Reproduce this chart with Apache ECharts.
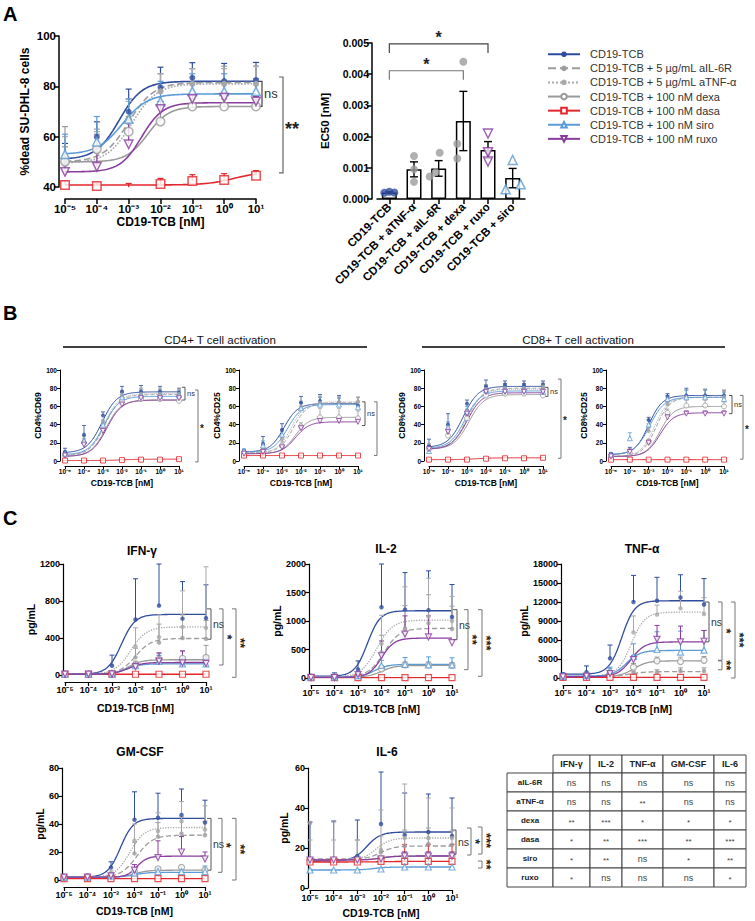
<!DOCTYPE html>
<html><head><meta charset="utf-8">
<script src="https://cdn.jsdelivr.net/npm/echarts@6/dist/echarts.min.js"></script>
<style>html,body{margin:0;padding:0;background:#fff}#c{width:755px;height:921px}</style>
</head><body><div id="c"></div>
<script>
// ================= DATA =================
const logDose = [-5, -4, -3, -2, -1, 0, 1];   // log10 CD19-TCB [nM]
const conditions = ['CD19-TCB', 'CD19-TCB + 5 µg/mL aIL-6R', 'CD19-TCB + 5 µg/mL aTNF-α',
  'CD19-TCB + 100 nM dexa', 'CD19-TCB + 100 nM dasa', 'CD19-TCB + 100 nM siro', 'CD19-TCB + 100 nM ruxo'];
// rows follow the order of `conditions`; fit rows = [bottom, top, logEC50, hill]

// A – killing
const killMean = [[49.3,59.9,69.9,79.6,83.4,82.1,82.5],[52,55,67,78,81,81,81],[50,54,66,78,81,81,81],
  [50,55,62,66,72,72,72],[40.8,40.4,39.9,41.2,42.4,42.8,44.5],[53,58,67,74,78,78,78],[46,48,57,71,75,75.5,74]];
const killSD = [[8,6,9,8,6,7,7],[12,8,8,7,6,7,7],[10,8,8,7,6,6,7],[6,6,6,6,3,3,3],
  [1.5,1.2,1.5,2.2,2.5,2.5,2],[8,10,8,8,7,7,5],[3,6,10,3,2,2,2]];
const killFit = [[51,82,-3.3,1.2],[50,81.5,-3.0,1.1],[49.5,81,-2.9,1.1],[50,72,-2.4,1.3],
  [40.8,46,0.3,1],[53,77,-3.2,1.1],[46,73.5,-2.6,1.3]];

// A – EC50
const ec50Cats = ['CD19-TCB', 'CD19-TCB + aTNF-α', 'CD19-TCB + aIL-6R', 'CD19-TCB + dexa', 'CD19-TCB + ruxo', 'CD19-TCB + siro'];
const ec50Mean = [0.00021, 0.00095, 0.00098, 0.0025, 0.00157, 0.00067];
const ec50Sem = [0.00002, 0.00024, 0.00025, 0.00095, 0.00027, 0.00031];
const ec50Reps = [[0.00020,0.00023,0.00021],[0.00138,0.00095,0.00055],[0.00148,0.00086,0.00072],
  [0.0044,0.00177,0.00130],[0.0021,0.0015,0.0012],[0.00125,0.00031,0.00047]];

// B – CD4 %CD69
const cd4cd69Mean = [[10,29,50,76,76,76,75],[7,21,40,72,73,73,73],[7,22,42,73,74,74,74],[6,20,36,66,68,68,66],
  [0.5,0.5,0.5,1,1.5,1.5,2],[8,22,40,70,72,72,72],[6,18,33,62,69,69,69]];
const cd4cd69SD = [[4,10,4,6,7,6,5],[3,6,4,5,6,6,5],[3,6,4,5,6,6,5],[3,5,4,5,5,5,5],
  [0.5,0.5,0.5,0.5,0.5,0.5,0.5],[3,6,4,5,6,6,5],[3,5,4,4,4,4,4]];
const cd4cd69Fit = [[9,76,-3.05,1.1],[6,73,-2.9,1.1],[6,74,-2.95,1.1],[5,67,-2.85,1.1],
  [0.5,2,-2,1],[7,71,-2.95,1.1],[5,67,-2.8,1.1]];
// B – CD4 %CD25
const cd4cd25Mean = [[11,19,34,64,66,64,61],[9,13,24,58,63,64,65],[9,14,27,60,64,65,65],[9,11,17,38,48,48,47],
  [6,6,6,6,6,6,6],[11,17,29,58,62,62,59],[8,10,15,36,44,44,43]];
const cd4cd25SD = [[2,8,7,7,7,8,9],[2,4,5,6,7,6,5],[2,4,5,6,7,6,5],[2,3,4,4,10,10,8],
  [0.5,0.5,0.5,0.5,0.5,0.5,0.5],[2,5,6,6,8,7,6],[2,3,3,3,3,3,3]];
const cd4cd25Fit = [[10,63,-2.9,1.2],[9,64,-2.4,1.2],[9,65,-2.5,1.2],[8,48,-2.3,1.2],
  [6,6,-2,1],[10,62,-2.7,1.2],[8,43,-2.3,1.2]];
// B – CD8 %CD69
const cd8cd69Mean = [[16,40,63,82,84,84,84],[14,33,52,79,80,80,82],[13,30,50,78,80,80,80],[13,28,47,72,74,74,72],
  [1.5,1.5,1.5,2.5,3,3,3.5],[11,37,55,78,78,78,76],[13,32,52,76,76,76,76]];
const cd8cd69SD = [[8,12,4,7,4,4,4],[5,6,5,5,5,5,5],[5,6,5,5,5,5,5],[4,5,4,4,4,4,4],
  [0.5,0.5,0.5,0.5,0.5,0.5,0.5],[4,6,5,4,5,5,5],[4,5,4,4,4,4,4]];
const cd8cd69Fit = [[15,82,-3.2,1.1],[13,80,-3.0,1.1],[13,79,-3.0,1.1],[13,73,-2.9,1.1],
  [1.5,3.5,-2.5,1],[14,77,-3.1,1.1],[13,75,-3.0,1.1]];
// B – CD8 %CD25
const cd8cd25Mean = [[8,11,45,71,72,72,72],[6,9,33,62,70,70,70],[6,10,37,65,70,70,70],[5,9,21,53,61,61,60],
  [1.5,1.5,1.5,1.5,1.5,1.5,1.5],[7,25,40,68,70,70,68],[5,10,20,48,52,52,52]];
const cd8cd25SD = [[1,4,3,3,8,7,5],[1,3,4,4,8,8,8],[1,3,4,4,8,8,8],[1,3,3,4,6,6,5],
  [0.3,0.3,0.3,0.3,0.3,0.3,0.3],[2,6,5,4,8,8,7],[1,3,3,3,3,3,3]];
const cd8cd25Fit = [[7,72,-3.0,1.2],[5,70,-2.6,1.2],[5,70,-2.7,1.2],[5,60,-2.4,1.2],
  [1.5,1.5,-2,1],[7,70,-2.95,1.1],[5,53,-2.4,1.2]];

// C – IFN-γ
const ifngMean = [[10,10,100,600,750,610,615],[10,10,15,190,350,400,390],[10,10,20,310,410,520,510],[10,10,12,110,170,180,190],
  [8,8,8,8,8,8,8],[10,10,12,100,150,120,120],[10,10,12,90,150,130,125]];
const ifngSD = [[3,3,115,440,450,400,360],[0,0,5,100,200,250,200],[0,0,10,200,240,390,660],[0,0,0,40,60,80,130],
  [0,0,0,0,0,0,0],[0,0,0,30,60,60,60],[0,0,0,40,90,130,80]];
const ifngFit = [[10,655,-2.6,1.5],[10,395,-2.0,1.3],[10,520,-2.2,1.3],[10,165,-2.3,1.5],
  [8,8,-2,1],[10,120,-2.4,1.5],[10,135,-2.3,1.5]];
// C – IL-2
const il2Mean = [[30,30,150,1240,1200,1190,1070],[20,20,50,450,870,960,860],[20,20,60,600,850,1080,1000],[15,15,20,160,230,230,220],
  [5,5,5,5,5,5,5],[15,15,40,220,240,230,230],[10,10,60,390,770,720,620]];
const il2SD = [[10,60,150,760,650,690,570],[0,0,20,300,400,500,400],[0,0,30,500,750,670,430],[0,0,0,50,50,50,50],
  [0,0,0,0,0,0,0],[0,0,0,90,120,140,125],[0,0,0,260,320,370,0]];
const il2Fit = [[30,1180,-2.6,1.6],[20,870,-1.9,1.3],[20,1015,-2.2,1.3],[15,220,-2.0,1.5],
  [5,5,-2,1],[15,240,-2.3,1.5],[10,700,-2.0,1.6]];
// C – TNF-α
const tnfMean = [[600,900,3100,12000,12200,12700,11600],[200,200,300,800,900,1100,1100],[300,300,1000,7200,10000,11000,10100],
  [200,200,500,1700,2700,2600,2800],[100,100,100,100,100,100,100],[300,400,1200,3400,4500,4100,4400],[200,300,700,2900,6100,5700,5800]];
const tnfSD = [[200,1000,2100,4200,3700,3600,4100],[0,0,100,300,400,500,500],[100,100,500,2600,1500,2700,2600],
  [0,0,200,600,600,700,600],[0,0,0,0,0,0,0],[100,100,500,2000,2800,3300,3100],[0,0,200,600,2200,2500,1700]];
const tnfFit = [[600,12200,-2.5,1.6],[200,1000,-2.2,1.3],[300,10400,-2.1,1.5],[200,2700,-2.0,1.5],
  [100,100,-2,1],[300,4350,-2.3,1.5],[200,5700,-2.1,1.5]];
// C – GM-CSF
const gmMean = [[2,3,9,43,44.5,46.5,41],[2,2,4,19,31,33,32],[2,2,5,28,35,42,36],[2,2,3,6,8,9,7],
  [1,1,1,1,1,1,1],[2,2,3,5,6,6,6],[2,2,3,7,16,20,15]];
const gmSD = [[1,1,4,20,17.5,18.5,16],[0,0,1,8,10,12,10],[0,0,2,12,13,14,17],[0,0,0,1,1,1,1],
  [0,0,0,0,0,0,0],[0,0,0,1,2,2,4],[0,0,0,4,12,11,5]];
const gmFit = [[2,44,-2.6,1.6],[2,32,-1.9,1.3],[2,37.5,-2.2,1.4],[2,7,-2.0,1.5],
  [1,1,-2,1],[2,5.5,-2.0,1.5],[2,17,-1.9,2]];
// C – IL-6
const il6Mean = [[14,14.5,16,32,26.5,28,26],[32.5,14,14,18,21,22,21.5],[14,14,14,19,25,25,25],[14,14,14,15,16,16,16],
  [13,13,13,13.3,13.3,13.3,13.3],[9,9,9,9.5,10.5,10.5,10.5],[14,14,14,14.5,16,16,16]];
const il6SD = [[19,19,18,26,21,19,19],[0,19,10,8,8,8,7],[10,10,10,20,27,20,15],[0,0,0,1,2,2,2],
  [1,1,1,1,8.5,8.5,8.5],[0,0,0,0,0,0,0],[0,0,0,0,2,2,2]];
const il6Fit = [[13.5,28,-2.6,1.5],[14.5,21,-2.0,1.5],[14,25,-2.2,1.5],[14,16,-2,1.5],
  [13,13.3,-2,1],[9,10.5,-2.3,1.5],[14,16,-2,1.5]];

// Table
const tableCols = ['IFN-γ', 'IL-2', 'TNF-α', 'GM-CSF', 'IL-6'];
const tableRows = ['aIL-6R', 'aTNF-α', 'dexa', 'dasa', 'siro', 'ruxo'];
const tableSig = [['ns','ns','ns','ns','ns'],['ns','ns','**','ns','ns'],['**','***','*','*','*'],
  ['*','**','***','**','***'],['*','**','ns','*','**'],['*','ns','ns','ns','*']];

// Significance brackets: [grid, yTop, yBottom, px right of plot, label, rotated]
const sigBrackets = [
  [0, 82, 72, 6, 'ns', false], [0, 83.7, 45.6, 27, '**', false],
  [2, 81, 67, 6, 'ns', false], [2, 78, -1, 19, '*', false],
  [3, 65, 39, 7, 'ns', false], [3, 65, 6, 19, '', false],
  [4, 81, 71, 5, 'ns', false], [4, 90, 3, 18, '*', false],
  [5, 72, 52, 8, 'ns', false], [5, 72, 2, 19, '*', false],
  [6, 715, 387, 5, 'ns', false], [6, 715, 108, 17, '*', true], [6, 715, -25, 30, '**', true],
  [7, 1199, 672, 5, 'ns', false], [7, 1199, 146, 16, '**', true], [7, 1199, 30, 30, '***', true],
  [8, 12000, 5700, 5, 'ns', false], [8, 12000, 2800, 18, '*', true], [8, 2700, 1300, 18, '**', true], [8, 12000, 0, 31, '***', true],
  [9, 44, 7, 6, 'ns', false], [9, 44, 5.5, 17, '*', true], [9, 44, 0, 31, '**', true],
  [10, 29, 16.8, 4, 'ns', false], [10, 30, 16.5, 19, '*', true], [10, 30.5, 17, 30, '***', true], [10, 13.5, 10, 30, '**', true]
];
// EC50 comparisons: [from category, to category, y value]
const ec50Sig = [[0, 4, 0.00497, '*'], [0, 3, 0.00411, '*']];

// ================= STYLE / LAYOUT =================
const FONT = '"Liberation Sans", Arial, Helvetica, sans-serif';
const condColor = ['#2f4c9f', '#9c9c9c', '#a9a9a9', '#9a9a9a', '#e3262b', '#5b9bd6', '#8a3c9f'];
const condLine = ['solid', 'dashed', 'dotted', 'solid', 'solid', 'solid', 'solid'];
const condSymbol = ['circle', 'circle', 'circle', 'circle', 'rect', 'triangle', 'triangle'];
const condRot = [0, 0, 0, 0, 0, 0, 180];
const condHollow = [false, false, false, true, true, true, true];

const grids = [
  [65, 36, 191, 151], [377, 43, 148, 156],
  [65, 370, 114, 91], [244, 370, 114, 91], [429, 370, 114, 91], [611, 370, 113, 91],
  [65, 564, 141, 111], [311, 564, 141, 114], [563, 564, 141, 114],
  [64, 768, 141, 112], [310, 768, 142, 120]
];
const styles = {
  A: {xOff:12, yOff:6, tf:11.5, nf:12, alw:1.5, tick:5, lm:4, xGap:17, yGap:28, lw:1.6, ew:1.2, cap:3, fs:6, hs:8.5, bw:1.5, bf:13, sf:18},
  B: {xOff:5, yOff:5, tf:6.5, nf:8.5, alw:1, tick:3, lm:2, xGap:12, yGap:13, lw:1, ew:0.8, cap:2, fs:4, hs:5, bw:1, bf:7.5, sf:10},
  C: {xOff:7, yOff:2, tf:9, nf:10.5, alw:1.2, tick:4, lm:3, xGap:18, yGap:22, lw:1.3, ew:1, cap:2.5, fs:4.5, hs:6, bw:1.2, bf:10.5, sf:13}
};
const curvePanels = [
  {g:0, mean:killMean, sd:killSD, fit:killFit, y:[40,100,20], yName:'%dead SU-DHL-8 cells', s:'A'},
  {g:2, mean:cd4cd69Mean, sd:cd4cd69SD, fit:cd4cd69Fit, y:[0,100,20], yName:'CD4%CD69', s:'B'},
  {g:3, mean:cd4cd25Mean, sd:cd4cd25SD, fit:cd4cd25Fit, y:[0,100,20], yName:'CD4%CD25', s:'B'},
  {g:4, mean:cd8cd69Mean, sd:cd8cd69SD, fit:cd8cd69Fit, y:[0,100,20], yName:'CD8%CD69', s:'B'},
  {g:5, mean:cd8cd25Mean, sd:cd8cd25SD, fit:cd8cd25Fit, y:[0,100,20], yName:'CD8%CD25', s:'B'},
  {g:6, mean:ifngMean, sd:ifngSD, fit:ifngFit, y:[0,1200,400], yName:'pg/mL', s:'C', yGap:22, xGap:20},
  {g:7, mean:il2Mean, sd:il2SD, fit:il2Fit, y:[0,2000,500], yName:'pg/mL', s:'C', yGap:21, xGap:18},
  {g:8, mean:tnfMean, sd:tnfSD, fit:tnfFit, y:[0,18000,3000], yName:'pg/mL', s:'C', yGap:28, xGap:18},
  {g:9, mean:gmMean, sd:gmSD, fit:gmFit, y:[0,80,20], yName:'pg/mL', s:'C', yGap:17, xGap:18},
  {g:10, mean:il6Mean, sd:il6SD, fit:il6Fit, y:[0,60,20], yName:'pg/mL', s:'C', yGap:19, xGap:17, xOff:2}
];

// ================= BUILD =================
const supMap = {'-':'⁻','0':'⁰','1':'¹','2':'²','3':'³','4':'⁴','5':'⁵','6':'⁶'};
function doseLabel(v) { return '10' + String(Math.round(v)).split('').map(c => supMap[c] || c).join(''); }
function fitCurve(f) {
  const [b, t, ec, h] = f, pts = [];
  for (let i = 0; i <= 120; i++) { const x = -5 + i * 0.05; pts.push([x, b + (t - b) / (1 + Math.pow(10, (ec - x) * h))]); }
  return pts;
}
function errBar(color, lw, cap, twoSided) {
  return function (params, api) {
    const x = api.value(0), y = api.value(1), e = api.value(2);
    if (!e) return null;
    const lo = api.coord([x, twoSided ? y - e : y]), hi = api.coord([x, y + e]);
    const st = {stroke: color, lineWidth: lw};
    const ch = [{type:'line', shape:{x1:lo[0], y1:lo[1], x2:hi[0], y2:hi[1]}, style:st},
                {type:'line', shape:{x1:hi[0]-cap, y1:hi[1], x2:hi[0]+cap, y2:hi[1]}, style:st}];
    if (twoSided) ch.push({type:'line', shape:{x1:lo[0]-cap, y1:lo[1], x2:lo[0]+cap, y2:lo[1]}, style:st});
    return {type:'group', children: ch};
  };
}
const txt = (size, weight) => ({fontSize:size, fontWeight:weight || 'bold', color:'#000', fontFamily:FONT});

const gridOpt = grids.map(g => ({left:g[0], top:g[1], width:g[2], height:g[3], containLabel:false}));
const xAxes = [], yAxes = [], series = [];
const axisBase = (st) => ({
  axisLine:{show:true, onZero:false, lineStyle:{color:'#000', width:st.alw}},
  axisTick:{show:true, length:st.tick, lineStyle:{color:'#000', width:st.alw}},
  splitLine:{show:false}
});

curvePanels.forEach(p => {
  const st = styles[p.s];
  xAxes[p.g] = Object.assign(axisBase(st), {type:'value', gridIndex:p.g, min:-5, max:1, interval:1,
    offset: p.xOff !== undefined ? p.xOff : st.xOff,
    axisLabel: Object.assign(txt(st.tf), {formatter: doseLabel, margin: st.lm}),
    name:'CD19-TCB [nM]', nameLocation:'middle', nameGap: p.xGap || st.xGap, nameTextStyle: txt(st.nf)});
  yAxes[p.g] = Object.assign(axisBase(st), {type:'value', gridIndex:p.g, min:p.y[0], max:p.y[1], interval:p.y[2],
    offset: st.yOff,
    axisLabel: Object.assign(txt(st.tf), {formatter: v => String(v), margin: 3}),
    name:p.yName, nameLocation:'middle', nameGap: p.yGap || st.yGap, nameTextStyle: txt(p.s === 'C' ? 10.5 : st.nf)});
  for (let k = 0; k < 7; k++) {
    const c = condColor[k];
    series.push({type:'line', name:`g${p.g}-fit-${k}`, xAxisIndex:p.g, yAxisIndex:p.g, data: fitCurve(p.fit[k]),
      showSymbol:false, symbol:'none', silent:true, z:2,
      lineStyle:{color:c, width: st.lw, type: condLine[k]}});
    series.push({type:'custom', name:`g${p.g}-err-${k}`, xAxisIndex:p.g, yAxisIndex:p.g, silent:true, z:3,
      data: logDose.map((x, i) => [x, p.mean[k][i], p.sd[k][i]]), renderItem: errBar(c, st.ew, st.cap, false)});
    series.push({type:'scatter', name:`g${p.g}-pts-${k}`, xAxisIndex:p.g, yAxisIndex:p.g, silent:true, z:4,
      data: logDose.map((x, i) => [x, p.mean[k][i]]),
      symbol: condSymbol[k], symbolRotate: condRot[k], symbolSize: condHollow[k] ? st.hs : st.fs,
      itemStyle: condHollow[k] ? {color:'#fff', borderColor:c, borderWidth:st.bw} : {color:c}});
  }
});

// legend series (empty, attached to panel A)
conditions.forEach((name, k) => {
  const c = condColor[k];
  series.push({type:'line', name, xAxisIndex:0, yAxisIndex:0, data:[], symbol:condSymbol[k], symbolRotate:condRot[k],
    symbolSize: condHollow[k] ? 7 : 5, lineStyle:{color:c, width:1.6, type:condLine[k]},
    itemStyle: condHollow[k] ? {color:'#fff', borderColor:c, borderWidth:1.5} : {color:c}});
});

// EC50 bar panel
const stA = styles.A;
xAxes[1] = Object.assign(axisBase(stA), {type:'category', gridIndex:1, data: ec50Cats,
  axisTick:{show:true, alignWithLabel:true, length:5, lineStyle:{color:'#000', width:1.5}},
  axisLabel: Object.assign(txt(11.5), {rotate:45, interval:0, margin:6})});
yAxes[1] = Object.assign(axisBase(stA), {type:'value', gridIndex:1, min:0, max:0.005, interval:0.001, offset:5,
  axisLabel: Object.assign(txt(10.5), {formatter: v => v.toFixed(3), margin:3}),
  name:'EC50 [nM]', nameLocation:'middle', nameGap:41, nameTextStyle: txt(11.5)});
series.push({type:'bar', name:'EC50 mean', xAxisIndex:1, yAxisIndex:1, data: ec50Mean, barWidth:15, silent:true,
  itemStyle:{color:'#fff', borderColor:'#000', borderWidth:1.5}, z:2});
series.push({type:'custom', name:'EC50 sem', xAxisIndex:1, yAxisIndex:1, silent:true, z:3,
  data: ec50Mean.map((m, i) => [i, m, ec50Sem[i]]), renderItem: errBar('#000', 1.4, 4, true)});
const ec50Color = ['#2f4c9f', '#9c9c9c', '#9c9c9c', '#9c9c9c', '#8a3c9f', '#5b9bd6'];
const ec50Sym = ['circle', 'circle', 'circle', 'circle', 'triangle', 'triangle'];
const ec50Rot = [0, 0, 0, 0, 180, 0];
const ec50Hollow = [false, false, false, false, true, true];
const jitter = [[-5, 0, 5], [0, 0, 0], [1, -3, -9], [0, -6, -6], [0, 0, 0], [0, -7, 8]];
const repData = [];
ec50Reps.forEach((reps, i) => reps.forEach((v, j) => repData.push({
  value:[i, v], symbol: ec50Sym[i], symbolRotate: ec50Rot[i], symbolOffset:[jitter[i][j], 0],
  symbolSize: ec50Hollow[i] ? 9 : 8,
  itemStyle: ec50Hollow[i] ? {color:'#fff', borderColor:ec50Color[i], borderWidth:1.5} : {color:ec50Color[i]}})));
series.push({type:'scatter', name:'EC50 replicates', xAxisIndex:1, yAxisIndex:1, data: repData, silent:true, z:4});

const option = {
  animation:false,
  grid: gridOpt, xAxis: xAxes, yAxis: yAxes, series,
  legend: {data: conditions, orient:'vertical', left:542, top:43, itemWidth:32, itemHeight:7, itemGap:1.6,
    selectedMode:false, textStyle:{fontSize:11, color:'#333', fontFamily:FONT, lineHeight:12.5, padding:[0,0,0,5]}},
  title: [
    {text:'CD4+ T cell activation', left:215, top:329, textAlign:'center', textStyle:{fontSize:11.5, fontWeight:'normal', color:'#111', fontFamily:FONT}},
    {text:'CD8+ T cell activation', left:573, top:329, textAlign:'center', textStyle:{fontSize:11.5, fontWeight:'normal', color:'#111', fontFamily:FONT}},
    {text:'IFN-γ', left:137, top:540, textAlign:'center', textStyle:txt(12)},
    {text:'IL-2', left:381, top:538, textAlign:'center', textStyle:txt(12)},
    {text:'TNF-α', left:637, top:538, textAlign:'center', textStyle:txt(12)},
    {text:'GM-CSF', left:135, top:741, textAlign:'center', textStyle:txt(12)},
    {text:'IL-6', left:382, top:741, textAlign:'center', textStyle:txt(12)}
  ]
};

const chart = echarts.init(document.getElementById('c'), null, {renderer:'svg', width:755, height:921});
chart.setOption(option);

// ---------- annotations ----------
const els = [];
const tStyle = (text, size, weight, fill, align, va) => ({text, fontSize:size, fontWeight:weight, fontFamily:FONT, fill: fill || '#000', align: align || 'left', verticalAlign: va || 'middle'});
[['A', 3, 4], ['B', 3, 303], ['C', 3, 508]].forEach(([t, x, y]) =>
  els.push({type:'text', x, y, silent:true, style: tStyle(t, 20, 'bold', '#000', 'left', 'top')}));
els.push({type:'line', silent:true, shape:{x1:63, y1:347, x2:367, y2:347}, style:{stroke:'#000', lineWidth:1.5}});
els.push({type:'line', silent:true, shape:{x1:422, y1:347, x2:725, y2:347}, style:{stroke:'#000', lineWidth:1.5}});

const panelStyle = {};
curvePanels.forEach(p => panelStyle[p.g] = styles[p.s]);
sigBrackets.forEach(([g, yT, yB, dx, label, rot]) => {
  const st = panelStyle[g];
  const x = grids[g][0] + grids[g][2] + dx;
  const pT = chart.convertToPixel({gridIndex:g}, [1, yT])[1];
  const pB = chart.convertToPixel({gridIndex:g}, [1, yB])[1];
  const tk = st === styles.B ? 3 : 4;
  const col = label === 'ns' ? '#444' : '#666';
  els.push({type:'polyline', silent:true, shape:{points:[[x - tk, pT], [x, pT], [x, pB], [x - tk, pB]]},
    style:{stroke:col, lineWidth: st === styles.A ? 1.2 : 0.9, fill:'none'}});
  if (!label) return;
  const mid = (pT + pB) / 2;
  if (label === 'ns') {
    els.push({type:'text', silent:true, x: x + 2, y: mid, style: tStyle('ns', st.bf, 'normal', '#333')});
  } else if (rot) {
    els.push({type:'text', silent:true, x: x + st.sf * 0.32, y: mid, rotation: -Math.PI / 2,
      style: tStyle(label, st.sf, 'bold', '#222', 'center', 'middle')});
  } else {
    els.push({type:'text', silent:true, x: x + 2, y: mid + st.sf * 0.22, style: tStyle(label, st.sf, 'bold', '#222')});
  }
});
ec50Sig.forEach(([a, b, v, label], idx) => {
  const pa = chart.convertToPixel({gridIndex:1}, [a, v]);
  const pb = chart.convertToPixel({gridIndex:1}, [b, v]);
  const col = idx === 0 ? '#444' : '#777';
  els.push({type:'polyline', silent:true, shape:{points:[[pa[0], pa[1] + 9], [pa[0], pa[1]], [pb[0], pb[1]], [pb[0], pb[1] + 9]]},
    style:{stroke:col, lineWidth:1.2, fill:'none'}});
  els.push({type:'text', silent:true, x:(pa[0] + pb[0]) / 2, y: pa[1] - 6, style: tStyle(label, 16, 'bold', '#222', 'center', 'middle')});
});

// significance table
const colX = [507, 553, 590, 622, 663, 714, 746];
const rowY = [755, 773, 792, 811, 830, 849, 868, 887];
for (let r = 0; r < 7; r++) {
  for (let c = (r === 0 ? 1 : 0); c < 6; c++) {
    els.push({type:'rect', silent:true, shape:{x:colX[c], y:rowY[r], width:colX[c + 1] - colX[c], height:rowY[r + 1] - rowY[r]},
      style:{fill:'#fff', stroke:'#444', lineWidth:1}});
    let t, size = 9, w = 'normal', col = '#444';
    if (r === 0) { t = tableCols[c - 1]; w = 'bold'; col = '#222'; }
    else if (c === 0) { t = tableRows[r - 1]; w = 'bold'; size = 8; col = '#222'; }
    else { t = tableSig[r - 1][c - 1]; if (t !== 'ns') size = 8; }
    els.push({type:'text', silent:true, x:(colX[c] + colX[c + 1]) / 2, y:(rowY[r] + rowY[r + 1]) / 2 + (t.startsWith('*') ? 2 : 0),
      style: tStyle(t, size, w, col, 'center', 'middle')});
  }
}
chart.setOption({graphic: els});
</script></body></html>
